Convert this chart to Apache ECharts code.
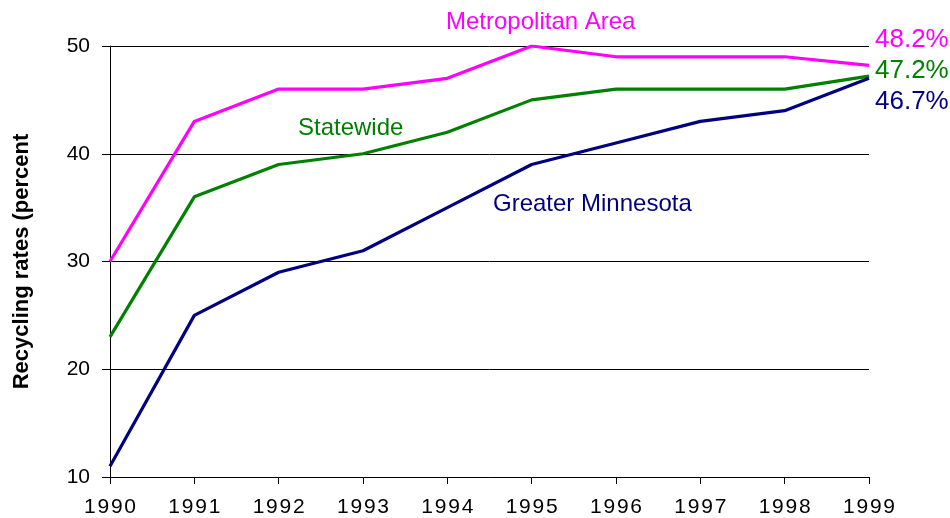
<!DOCTYPE html>
<html lang="en">
<head>
    <meta charset="UTF-8">
    <title>Recycling rates</title>
    <script src="https://cdn.jsdelivr.net/npm/echarts@6/dist/echarts.min.js"></script>
    <style>
        html, body { margin: 0; padding: 0; background: #fff; }
    </style>
</head>
<body>
<div id="main" style="width: 950px;height:518px;"></div>
<script type="text/javascript">
    // data
    var years = ['1990', '1991', '1992', '1993', '1994', '1995', '1996', '1997', '1998', '1999'];
    var metro = [30, 43, 46, 46, 47, 50, 49, 49, 49, 48.2];
    var statewide = [23, 36, 39, 40, 42, 45, 46, 46, 46, 47.2];
    var greater = [11, 25, 29, 31, 35, 39, 41, 43, 44, 47];
    var endLabels = ['48.2%', '47.2%', '46.7%'];

    var font = "'Liberation Sans', Arial, sans-serif";
    var PINK = '#ff00ff', GREEN = '#008000', NAVY = '#000080';

    var myChart = echarts.init(document.getElementById('main'));

    function line(name, data, color) {
        return {
            name: name,
            type: 'line',
            data: data,
            symbol: 'none',
            lineStyle: { color: color, width: 3.2 },
            z: 3
        };
    }

    var option = {
        backgroundColor: '#fff',
        animation: false,
        grid: { left: 110, right: 81, top: 46, bottom: 41 },
        xAxis: {
            type: 'category',
            data: years,
            boundaryGap: false,
            axisLine: { lineStyle: { color: '#000', width: 1 } },
            axisTick: { show: true, length: 7, lineStyle: { color: '#000' } },
            axisLabel: {
                color: '#000',
                fontFamily: font,
                fontSize: 21,
                margin: 20,
                formatter: function (v) { return v.split('').join('\u200A'); }
            },
            splitLine: { show: false }
        },
        yAxis: {
            type: 'value',
            min: 10,
            max: 50,
            interval: 10,
            name: 'Recycling rates (percent',
            nameLocation: 'middle',
            nameGap: 77,
            nameTextStyle: { color: '#000', fontFamily: font, fontSize: 22, fontWeight: 'bold' },
            axisLine: { show: true, lineStyle: { color: '#000', width: 1 } },
            axisTick: { show: true, length: 8, lineStyle: { color: '#000' } },
            axisLabel: { color: '#000', fontFamily: font, fontSize: 21, margin: 20 },
            splitLine: { show: true, lineStyle: { color: '#000', width: 1 } }
        },
        graphic: [
            { type: 'text', left: 446, top: 10, style: { text: 'Metropolitan Area', fill: PINK, font: '24px ' + font } },
            { type: 'text', left: 298, top: 116, style: { text: 'Statewide', fill: GREEN, font: '24px ' + font } },
            { type: 'text', left: 493, top: 192, style: { text: 'Greater Minnesota', fill: NAVY, font: '24px ' + font } },
            { type: 'text', left: 875, top: 27, style: { text: endLabels[0], fill: PINK, font: '26px ' + font } },
            { type: 'text', left: 875, top: 58, style: { text: endLabels[1], fill: GREEN, font: '26px ' + font } },
            { type: 'text', left: 875, top: 89, style: { text: endLabels[2], fill: NAVY, font: '26px ' + font } }
        ],
        series: [
            line('Metropolitan Area', metro, PINK),
            line('Statewide', statewide, GREEN),
            line('Greater Minnesota', greater, NAVY)
        ]
    };
    myChart.setOption(option);
</script>
</body>
</html>
